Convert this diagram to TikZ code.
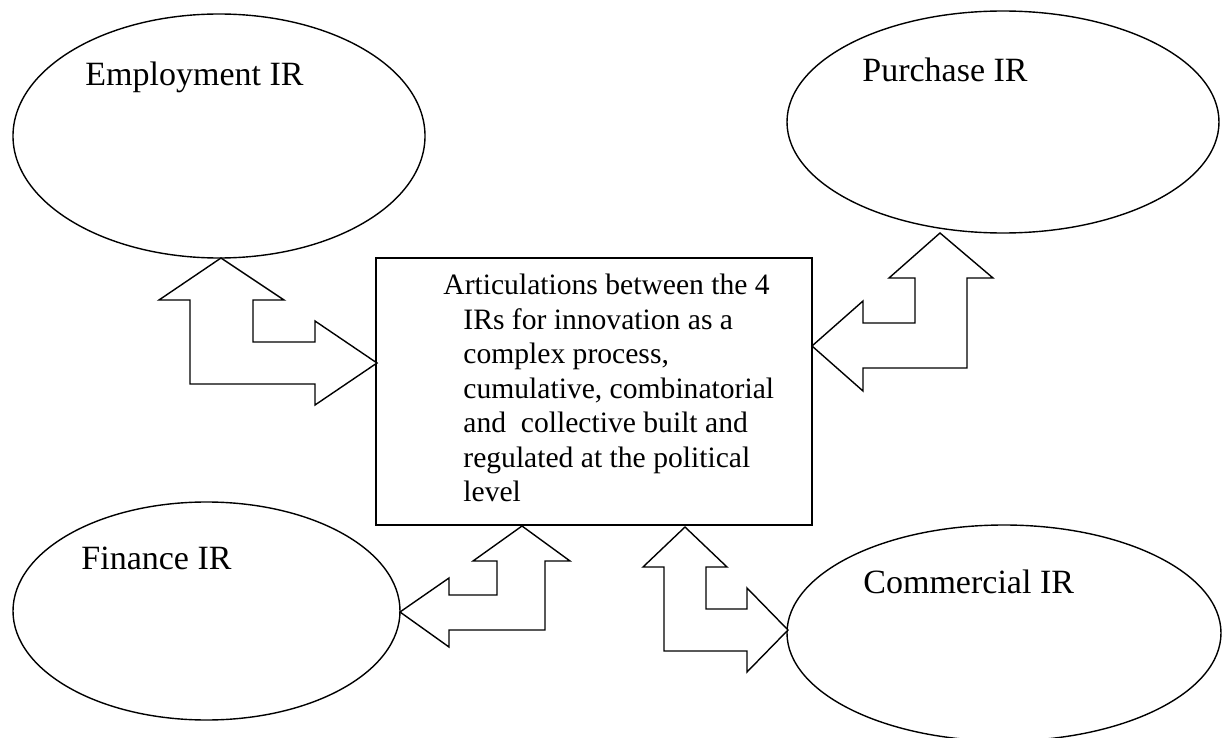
\documentclass[tikz,border=0pt]{standalone}
\usepackage{fontspec}
\setmainfont{Liberation Serif}
\usetikzlibrary{shapes.geometric}
\begin{document}
\begin{tikzpicture}[x=0.5pt,y=-0.5pt,
  outl/.style={draw=black,line width=0.7pt},
  irnode/.style={outl,ellipse,inner sep=0pt},
  irlabel/.style={anchor=base west,inner sep=0pt,font=\fontsize{17}{20}\selectfont},
  blockarrow/.style={outl,fill=white,line join=miter}]
\useasboundingbox (0,0) rectangle (1222,738);
% ellipses
\node[irnode,minimum width=206pt,minimum height=122pt] (emp) at (219,136) {};
\node[irnode,minimum width=216pt,minimum height=111pt] (pur) at (1003,122) {};
\node[irnode,minimum width=193.5pt,minimum height=109pt] (fin) at (206.5,611) {};
\node[irnode,minimum width=217pt,minimum height=108pt] (com) at (1004,633) {};
% labels
\node[irlabel] (empl) at (85,86) {Employment IR};
\node[irlabel] (purl) at (862,82) {Purchase IR};
\node[irlabel] (finl) at (81,569) {Finance IR};
\node[irlabel] (coml) at (863,593) {Commercial IR};
% central box
\node[outl,rectangle,minimum width=218pt,minimum height=133.5pt,inner sep=0pt] (box) at (594,391.5) {};
\node[anchor=north west,inner sep=0pt,align=left,font=\fontsize{14.8}{17.25}\selectfont] (boxtext) at (463,274)
{\hspace*{-10pt}Articulations between the 4\\
IRs for innovation as a\\
complex process,\\
cumulative, combinatorial\\
and\ \ collective built and\\
regulated at the political\\
level};
% block arrows
\draw[blockarrow] (221,258) -- (284,300) -- (253,300) -- (253,342) -- (315,342) -- (315,321) -- (377,363) -- (315,405) -- (315,384) -- (190,384) -- (190,300) -- (159,300) -- cycle;
\draw[blockarrow] (940,233) -- (993,278) -- (967,278) -- (967,368) -- (863,368) -- (863,391) -- (812,346) -- (863,301) -- (863,323) -- (915,323) -- (915,278) -- (889,278) -- cycle;
\draw[blockarrow] (522,526) -- (570,561) -- (545,561) -- (545,630) -- (449,630) -- (449,647) -- (400,612) -- (449,578) -- (449,595) -- (497,595) -- (497,561) -- (473,561) -- cycle;
\draw[blockarrow] (685,527) -- (727,567) -- (706,567) -- (706,609) -- (747,609) -- (747,588) -- (788,630) -- (747,672) -- (747,651) -- (664,651) -- (664,567) -- (643,567) -- cycle;
\end{tikzpicture}
\end{document}
